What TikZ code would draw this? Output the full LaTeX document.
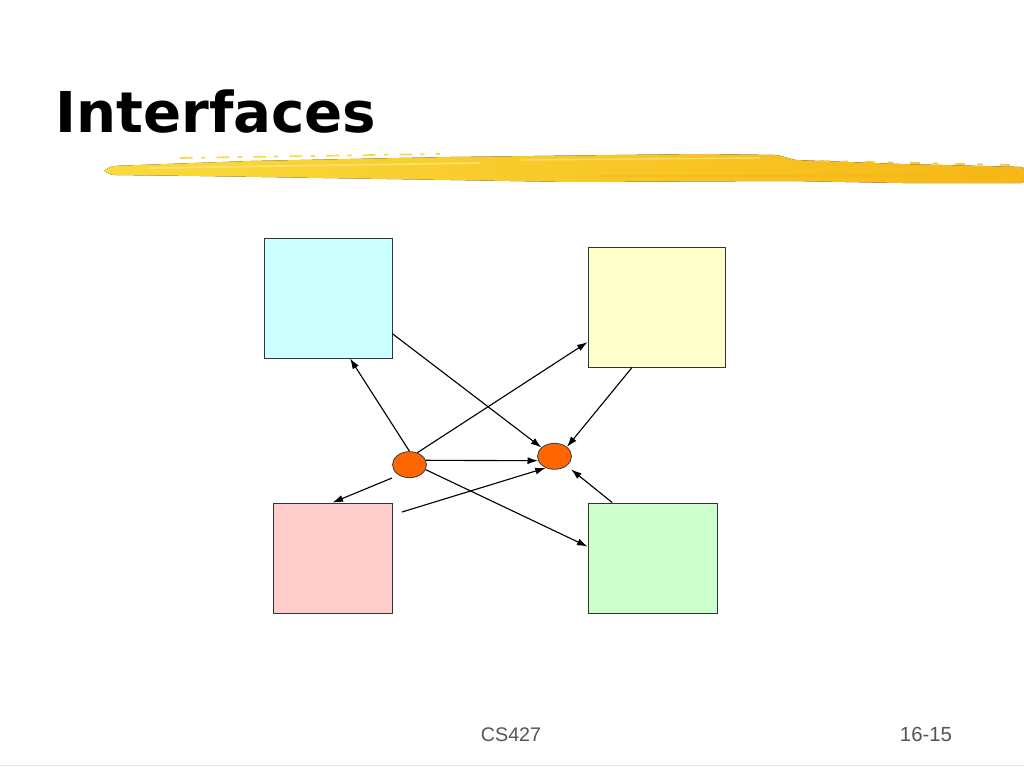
\documentclass[tikz,border=0pt]{standalone}
\usepackage{fontspec}
\setmainfont{Liberation Sans}
\newfontfamily\titlefont{DejaVu Sans}
\usepackage{tikz}
\usetikzlibrary{shapes,arrows.meta,positioning,calc}
\usepackage{xcolor}
\definecolor{boxcyan}{RGB}{204,255,255}
\definecolor{boxyellow}{RGB}{255,255,204}
\definecolor{boxpink}{RGB}{255,204,204}
\definecolor{boxgreen}{RGB}{204,255,204}
\definecolor{huborange}{RGB}{255,102,0}
\definecolor{brushlight}{RGB}{250,218,60}
\definecolor{brushdark}{RGB}{246,184,22}
\definecolor{footgray}{RGB}{85,85,85}

\begin{document}
\begin{tikzpicture}[x=0.025cm, y=-0.025cm,
    box/.style={draw=black!80, line width=0.6pt, inner sep=0pt},
    hub/.style={ellipse, draw=black!75, fill=huborange, line width=0.6pt,
                minimum width=0.85cm, minimum height=0.65cm, inner sep=0pt},
    link/.style={->, >={Latex[length=7.5pt,width=5pt]}, line width=0.8pt}]
    \useasboundingbox (0,0) rectangle (1024,768);
    \fill[white] (0,0) rectangle (1024,768);

    % Title and brush stroke
    \node[anchor=base west, inner sep=0pt, font=\titlefont\bfseries\fontsize{40}{46}\selectfont]
        (title) at (55,133) {Interfaces};
    \fill[rounded corners=2pt, left color=brushlight, right color=brushdark]
        (103,171) -- (112,166) -- (250,161) -- (450,157) -- (700,154) -- (777,155)
        -- (795,160) -- (900,164) -- (1024,167) -- (1024,183) -- (900,183)
        -- (790,181) -- (570,182) -- (450,180) -- (323,178) -- (200,176)
        -- (112,175) -- cycle;
    \draw[brushlight!60!white, line width=1.2pt, opacity=0.7] (150,168) -- (480,163);
    \draw[brushdark!90!orange, line width=2pt, opacity=0.5] (600,176) -- (1000,176);
    \draw[brushlight!50!white, line width=1pt, opacity=0.6] (520,160) -- (760,158);
    \draw[brushlight, line width=1.2pt, dash pattern=on 9pt off 6pt on 3pt off 8pt] (180,158) -- (440,154);
    \draw[brushdark!80, line width=1.2pt, dash pattern=on 7pt off 9pt on 4pt off 12pt] (820,161) -- (1010,165);

    % Boxes
    \node[box, fill=boxcyan, minimum width=3.2cm, minimum height=3cm] (cyan) at (328,298) {};
    \node[box, fill=boxyellow, minimum width=3.425cm, minimum height=3cm] (yellow) at (656.5,307) {};
    \node[box, fill=boxpink, minimum width=2.975cm, minimum height=2.75cm] (pink) at (332.5,558) {};
    \node[box, fill=boxgreen, minimum width=3.225cm, minimum height=2.75cm] (green) at (652.5,558) {};

    % Interface points
    \node[hub] (lhub) at (409.5,464.7) {};
    \node[hub] (rhub) at (554.5,456.3) {};
    \coordinate (ptail) at (392,478);
    \coordinate (qtail) at (402,512);

    % Connections
    \draw[link] (lhub.north) -- (cyan.-70);
    \draw[link] (lhub.57) -- (yellow.207);
    \draw[link] (lhub.15) -- (rhub.195);
    \draw[link] (lhub.-17) -- (green.170);
    \draw[link] (ptail) -- (pink.north);
    \draw[link] (qtail) -- (rhub.233);
    \draw[link] (cyan.-29) -- (rhub.146);
    \draw[link] (yellow.248) -- (rhub.37);
    \draw[link, shorten >=4pt] (green.126) -- (rhub.-38);

    % Footer
    \node[anchor=base, text=footgray, font=\fontsize{14}{16}\selectfont] (course) at (511,741) {CS427};
    \node[anchor=base, text=footgray, font=\fontsize{14.5}{16}\selectfont] (page) at (926,741) {16-15};
    \draw[black!10, line width=0.6pt] (0,765) -- (1024,765);
\end{tikzpicture}
\end{document}
